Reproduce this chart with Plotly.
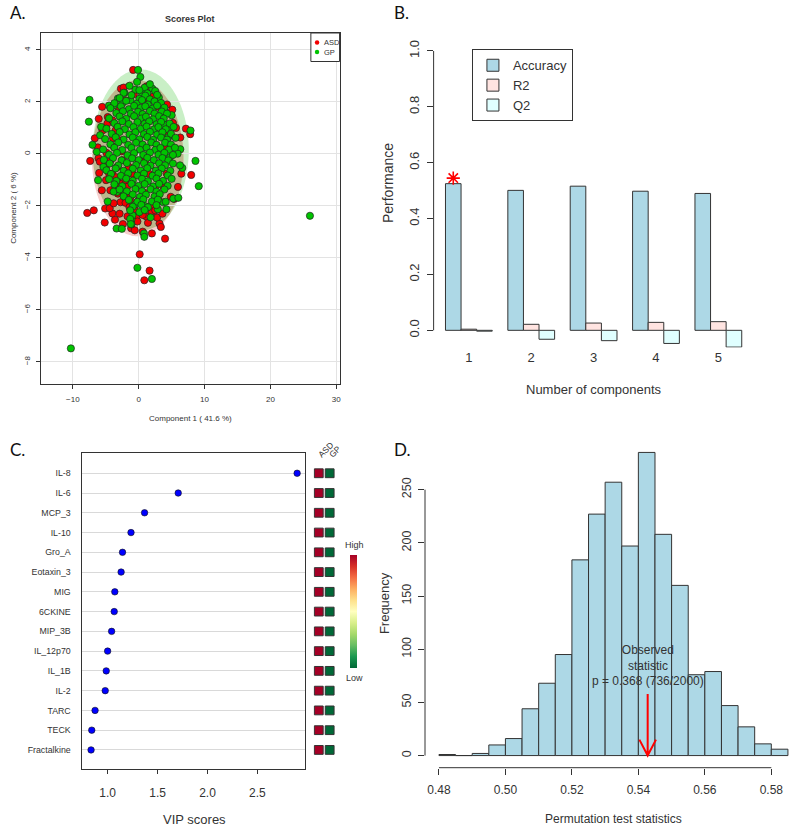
import numpy as np
import plotly.graph_objects as go

W, H = 800, 828


def fx(p):
    return p / W


def fy(p):
    return 1 - p / H


# ---------------- Panel A: PLS-DA scores ----------------
asd_scores = [
    (-0.85, 3.23), (-2.7, 2.51), (-5.56, 1.81), (-6.07, 1.35), (-6.67, 0.6), (-7.37, -0.27), (-6.1, -0.17),
    (-6.0, -0.73), (-7.82, -2.27), (-6.82, -2.17), (-5.16, -2.64), (-3.6, -2.53), (-4.0, -2.29), (-5.1, -2.1),
    (-4.4, -2.09), (-2.76, -1.86), (-2.0, -1.88), (-2.4, -2.7), (-1.15, -2.86), (-0.6, -2.94), (0.6, -2.99),
    (1.4, -2.65), (2.0, -3.06), (3.16, -2.68), (3.36, -2.81), (4.0, -3.26), (0.15, -3.86), (1.65, -4.49),
    (0.85, -4.86), (5.1, 1.7), (5.2, 1.19), (5.66, 1.0), (7.17, 0.97), (7.82, 0.76), (6.32, 0.63),
    (6.47, -0.76), (7.97, -0.81), (5.96, -1.27), (4.86, -1.65), (5.41, -1.73), (2.0, -2.23), (2.0, -1.97),
    (-0.75, 2.29), (-0.6, -2.15), (-0.4, -2.45), (-3.16, -1.53), (-4.96, -1.01), (-4.5, -0.76), (-4.9, 0.04),
    (-5.0, -0.5), (-4.26, -0.24), (-4.7, 1.42), (-4.76, 1.17), (-3.5, 0.91), (-3.76, 0.27), (-4.0, -0.76),
    (-3.26, -1.01), (-2.5, -1.14), (-1.75, -1.27), (-1.25, -1.65), (0.0, -1.78), (1.0, -2.04), (2.5, -2.17),
    (3.0, -1.78), (3.76, -1.27), (4.26, -0.76), (4.5, -0.24), (4.26, 0.27), (4.0, 0.78), (3.5, 1.29),
    (3.0, 1.81), (1.5, 2.06), (0.5, 2.19), (-2.0, 2.06), (-3.0, 1.68), (-4.0, 1.29), (-3.0, 0.53),
    (-2.5, -0.24), (-1.5, -0.5), (-1.0, -0.76), (1.5, -0.76), (2.5, -1.27), (1.0, -0.24), (-2.0, -1.01),
    (-3.26, -0.5), (-3.8, -1.9), (-2.9, -2.3), (-1.7, -2.4), (-0.2, -2.6), (1.1, -2.4), (2.8, -2.45),
    (3.6, -2.3), (-5.6, -1.4), (-5.9, -0.3), (-5.5, 0.9), (-2.3, 2.55), (1.2, 2.6), (2.2, 2.2), (4.3, 1.9),
    (-6.2, 0.25), (-1.4, -2.05), (0.6, -2.35), (-3.4, -0.9), (-2.2, -1.6), (-4.3, -1.4), (-3.0, -1.3),
    (-0.8, -1.9), (0.9, -1.5), (-2.6, 0.1), (-3.9, 0.6),
]

gp_scores = [
    (-0.1, 3.23), (0.25, 2.96), (-0.25, 2.77), (-0.5, 2.47), (2.06, 2.51), (-2.16, 2.35), (0.5, 2.32),
    (-7.47, 2.08), (3.06, 2.17), (-7.57, 1.24), (-3.16, 2.13), (-4.5, 1.86), (-3.76, 1.87), (-2.5, 1.94),
    (-1.25, 2.06), (5.0, 1.49), (3.86, 1.13), (7.87, 0.9), (-7.02, 0.35), (-6.37, 0.08), (8.62, -0.27),
    (9.12, -1.24), (6.62, -0.54), (5.26, -1.72), (6.02, -1.69), (4.21, -2.13), (-4.71, -1.83), (-6.17, -1.01),
    (-5.36, -0.5), (-5.86, 0.72), (-5.71, 1.04), (-3.36, -2.87), (-2.56, -2.88), (-1.1, -2.53), (-1.1, -2.71),
    (-0.95, -2.36), (0.8, -3.06), (0.85, -3.19), (1.8, -2.44), (-0.2, -4.38), (2.0, -4.81), (2.9, -2.13),
    (3.71, -1.86), (1.0, -2.01), (-0.5, -1.94), (-3.26, -1.46), (-3.81, -1.45), (-2.26, -1.49), (6.32, 0.18),
    (5.91, 0.01), (6.27, -0.44), (4.76, -0.12), (4.51, 0.65), (4.76, 1.04), (3.51, 1.81), (4.01, 1.62),
    (26.0, -2.38), (-10.3, -7.48),
    (-1.4, 2.62), (0.9, 2.55), (1.7, 2.68),
    (-2.3, 2.35), (0.1, 2.45), (1.3, 2.33), (2.5, 2.42),
    (-2.9, 2.15), (-1.1, 2.26), (0.1, 2.12), (1.0, 2.24), (1.7, 2.1), (2.8, 2.27),
    (-3.7, 1.95), (-1.9, 2.04), (-0.3, 1.93), (0.5, 2.07), (1.4, 1.9), (2.4, 2.02), (3.4, 1.96),
    (-4.3, 1.76), (-2.7, 1.83), (-1.5, 1.72), (-0.7, 1.85), (0.3, 1.77), (1.0, 1.83), (2.1, 1.74), (2.8, 1.86),
    (3.9, 1.78),
    (-3.4, 1.57), (-2.4, 1.64), (-1.2, 1.55), (-0.1, 1.62), (0.6, 1.53), (1.7, 1.65), (2.4, 1.55), (3.5, 1.63),
    (4.3, 1.55),
    (-4.5, 1.37), (-2.9, 1.44), (-1.9, 1.35), (-0.7, 1.45), (0.4, 1.36), (1.1, 1.43), (2.2, 1.33), (3.1, 1.45),
    (3.8, 1.36),
    (-3.7, 1.18), (-2.5, 1.25), (-1.5, 1.15), (-0.2, 1.22), (0.9, 1.16), (1.6, 1.25), (2.7, 1.14), (3.4, 1.23),
    (4.7, 1.17),
    (-4.9, 0.97), (-3.2, 1.04), (-2.1, 0.95), (-0.8, 1.03), (0.3, 0.96), (1.2, 1.05), (2.3, 0.94), (3.0, 1.03),
    (4.1, 0.95), (5.3, 1.04),
    (-4.1, 0.77), (-2.9, 0.84), (-1.4, 0.75), (-0.5, 0.83), (0.8, 0.76), (1.7, 0.85), (2.8, 0.74), (3.6, 0.83),
    (4.9, 0.77),
    (-5.1, 0.57), (-3.5, 0.64), (-2.3, 0.55), (-0.9, 0.63), (0.1, 0.56), (1.3, 0.65), (2.2, 0.54), (3.4, 0.63),
    (4.3, 0.55), (5.6, 0.62),
    (-4.3, 0.37), (-3.1, 0.44), (-1.6, 0.35), (-0.4, 0.43), (0.6, 0.36), (1.9, 0.44), (2.7, 0.35), (4.0, 0.43),
    (4.9, 0.36),
    (-5.4, 0.17), (-3.7, 0.24), (-2.5, 0.15), (-1.1, 0.23), (0.2, 0.16), (1.2, 0.24), (2.5, 0.15), (3.3, 0.23),
    (4.6, 0.16), (5.5, 0.24),
    (-4.5, -0.03), (-3.3, 0.04), (-1.7, -0.05), (-0.7, 0.03), (0.7, -0.04), (1.7, 0.05), (3.0, -0.03),
    (3.9, 0.04), (5.2, -0.04),
    (-5.3, -0.23), (-3.9, -0.16), (-2.6, -0.25), (-1.0, -0.17), (0.0, -0.24), (1.3, -0.15), (2.3, -0.24),
    (3.6, -0.16), (4.5, -0.25),
    (-4.4, -0.37), (-3.1, -0.44), (-1.8, -0.35), (-0.4, -0.43), (0.8, -0.36), (1.8, -0.45), (3.1, -0.36),
    (4.0, -0.44), (5.2, -0.37),
    (-4.9, -0.63), (-3.5, -0.56), (-2.3, -0.65), (-0.9, -0.57), (0.3, -0.64), (1.3, -0.55), (2.6, -0.64),
    (3.5, -0.56), (4.8, -0.65),
    (-4.2, -0.77), (-2.7, -0.84), (-1.6, -0.75), (-0.2, -0.83), (0.8, -0.76), (2.1, -0.84), (3.0, -0.75),
    (4.4, -0.83),
    (-4.5, -0.97), (-3.4, -1.04), (-1.9, -0.95), (-0.9, -1.03), (0.5, -0.96), (1.4, -1.05), (2.7, -0.95),
    (3.7, -1.04), (5.0, -0.96),
    (-3.7, -1.17), (-2.5, -1.24), (-1.1, -1.15), (0.0, -1.23), (0.9, -1.16), (2.2, -1.25), (3.1, -1.15),
    (4.4, -1.23),
    (-2.9, -1.37), (-1.8, -1.44), (-0.5, -1.35), (0.5, -1.43), (1.8, -1.36), (2.7, -1.45), (3.9, -1.37),
    (-2.3, -1.63), (-0.9, -1.56), (0.2, -1.65), (1.1, -1.57), (2.4, -1.64), (3.2, -1.55),
    (-1.5, -1.77), (-0.2, -1.84), (0.7, -1.75), (2.0, -1.83), (2.9, -1.76), (4.1, -1.84),
    (-0.9, -2.03), (0.4, -1.96), (1.4, -2.05), (2.7, -1.97),
    (-1.3, -2.17), (0.1, -2.24), (0.9, -2.16),
    (-1.3, -2.5), (-1.2, -2.7),
]

# 95% region ellipses: (centre x, centre y, half-width, half-height)
gp_ellipse = (0.3, 0.15, 7.3, 3.1)
asd_ellipse = (-0.15, -0.17, 6.95, 3.0)
var_comp1 = "Component 1 ( 41.6 %)"
var_comp2 = "Component 2 ( 6 %)"

# ---------------- Panel B: cross-validation ----------------
components = [1, 2, 3, 4, 5]
accuracy = [0.525, 0.501, 0.516, 0.498, 0.490]
r2 = [0.004, 0.0215, 0.026, 0.0285, 0.031]
q2 = [-0.003, -0.032, -0.037, -0.047, -0.060]
best_component = 1

# ---------------- Panel C: VIP scores ----------------
features = ["IL-8", "IL-6", "MCP_3", "IL-10", "Gro_A", "Eotaxin_3", "MIG", "6CKINE", "MIP_3B",
            "IL_12p70", "IL_1B", "IL-2", "TARC", "TECK", "Fractalkine"]
vip = [2.898, 1.707, 1.370, 1.234, 1.149, 1.135, 1.072, 1.066, 1.040, 1.000, 0.986, 0.976, 0.874, 0.841, 0.834]
groups = ["ASD", "GP"]
asd_level = [1, 1, 1, 1, 1, 1, 1, 1, 1, 1, 1, 1, 1, 1, 1]
gp_level = [0, 0, 0, 0, 0, 0, 0, 0, 0, 0, 0, 0, 0, 0, 0]

# ---------------- Panel D: permutation test ----------------
bin_left = [0.480, 0.485, 0.490, 0.495, 0.500, 0.505, 0.510, 0.515, 0.520, 0.525, 0.530,
            0.535, 0.540, 0.545, 0.550, 0.555, 0.560, 0.565, 0.570, 0.575, 0.580]
bin_width = 0.005
counts = [1, 0, 2, 10, 16, 44, 68, 95, 184, 227, 257, 197, 285, 208, 160, 76, 79, 47, 27, 11, 6]
observed_stat = 0.5428
arrow_top = 58
p_label = "p = 0.368 (736/2000)"

FONT = "Liberation Sans, Arial, sans-serif"
INK = "#333333"

fig = go.Figure()

# ---- Panel A traces
ax_, ay_ = zip(*asd_scores)
gx_, gy_ = zip(*gp_scores)
fig.add_trace(go.Scatter(x=list(ax_), y=list(ay_), mode="markers", xaxis="x", yaxis="y", showlegend=False,
                         marker=dict(color="#F20000", size=7.2, line=dict(color="#222222", width=0.7))))
fig.add_trace(go.Scatter(x=list(gx_), y=list(gy_), mode="markers", xaxis="x", yaxis="y", showlegend=False,
                         marker=dict(color="#00C400", size=7.2, line=dict(color="#222222", width=0.7))))


def ellipse_pts(e, n=240):
    cx, cy, rx, ry = e
    t = np.linspace(0, 2 * np.pi, n, endpoint=False)
    return cx + rx * np.cos(t), cy + ry * np.sin(t)


def inside(px_, py_, e):
    cx, cy, rx, ry = e
    return ((px_ - cx) / rx) ** 2 + ((py_ - cy) / ry) ** 2 <= 1.0


def to_path(xs, ys):
    return "M " + " L ".join(f"{a:.4f},{b:.4f}" for a, b in zip(xs, ys)) + " Z"


gxe, gye = ellipse_pts(gp_ellipse)
rxe, rye = ellipse_pts(asd_ellipse)
mg = inside(gxe, gye, asd_ellipse)
mr = inside(rxe, rye, gp_ellipse)
ix = np.concatenate([gxe[mg], rxe[mr]])
iy = np.concatenate([gye[mg], rye[mr]])
ang = np.arctan2((iy - iy.mean()) / 3.0, (ix - ix.mean()) / 7.0)
order = np.argsort(ang)
ix, iy = ix[order], iy[order]

shapes = []
shapes.append(dict(type="path", path=to_path(gxe, gye), xref="x", yref="y", layer="below",
                   fillcolor="#C9EFC6", line=dict(width=0)))
shapes.append(dict(type="path", path=to_path(rxe, rye), xref="x", yref="y", layer="below",
                   fillcolor="#F6CFCD", line=dict(width=0)))
shapes.append(dict(type="path", path=to_path(ix, iy), xref="x", yref="y", layer="below",
                   fillcolor="#BDB78D", line=dict(width=0)))

# manual legend for panel A
shapes.append(dict(type="rect", xref="paper", yref="paper", x0=fx(314), x1=fx(343), y0=fy(61.5), y1=fy(33),
                   line=dict(color=INK, width=1), fillcolor="white", layer="above"))
shapes.append(dict(type="circle", xref="paper", yref="paper", x0=fx(318), x1=fx(322.5), y0=fy(44.8),
                   y1=fy(40.3), fillcolor="#F20000", line=dict(width=0)))
shapes.append(dict(type="circle", xref="paper", yref="paper", x0=fx(318), x1=fx(322.5), y0=fy(54.2),
                   y1=fy(49.7), fillcolor="#00C400", line=dict(width=0)))

# ---- Panel B traces
bar_line = dict(color=INK, width=1)
fig.add_trace(go.Bar(x=components, y=accuracy, name="Accuracy", xaxis="x2", yaxis="y2",
                     marker=dict(color="#ADD8E6", line=bar_line)))
fig.add_trace(go.Bar(x=components, y=r2, name="R2", xaxis="x2", yaxis="y2",
                     marker=dict(color="#FFE4E1", line=bar_line)))
fig.add_trace(go.Bar(x=components, y=q2, name="Q2", xaxis="x2", yaxis="y2",
                     marker=dict(color="#E0FFFF", line=bar_line)))
fig.add_trace(go.Scatter(x=[components[best_component - 1] - 0.25], y=[accuracy[best_component - 1] + 0.02],
                         mode="markers", xaxis="x2", yaxis="y2", showlegend=False,
                         marker=dict(symbol="asterisk-open", size=11, color="#FF0000",
                                     line=dict(color="#FF0000", width=1.6))))
shapes.append(dict(type="line", xref="x2 domain", yref="y2", x0=0, x1=0, y0=0, y1=1.0,
                   line=dict(color=INK, width=1)))

# ---- Panel C traces
fig.add_trace(go.Scatter(x=vip, y=features, mode="markers", xaxis="x3", yaxis="y3", showlegend=False,
                         marker=dict(color="#0000FF", size=6.5, line=dict(color="#111111", width=0.6))))
fig.add_trace(go.Scatter(x=[groups[0]] * len(features) + [groups[1]] * len(features), y=features + features,
                         mode="markers", xaxis="x4", yaxis="y4", showlegend=False,
                         marker=dict(symbol="square", size=8.8, color=asd_level + gp_level,
                                     colorscale="RdYlGn", reversescale=True, cmin=0, cmax=1,
                                     line=dict(color=INK, width=1), showscale=True,
                                     colorbar=dict(x=fx(354), xanchor="left", y=fy(611.7), yanchor="middle",
                                                   len=113, lenmode="pixels", thickness=7,
                                                   thicknessmode="pixels", outlinewidth=0,
                                                   showticklabels=False, ticks="", xpad=0, ypad=0))))

# ---- Panel D traces
fig.add_trace(go.Bar(x=bin_left, y=counts, width=bin_width, offset=0, xaxis="x5", yaxis="y5", showlegend=False,
                     marker=dict(color="#ADD8E6", line=dict(color=INK, width=1))))
shapes.append(dict(type="line", xref="x5", yref="y5 domain", x0=bin_left[0], x1=0.58, y0=0, y1=0,
                   line=dict(color=INK, width=1)))
shapes.append(dict(type="line", xref="x5 domain", yref="y5", x0=0, x1=0, y0=0, y1=250,
                   line=dict(color=INK, width=1)))
shapes.append(dict(type="path", xref="x5", yref="y5",
                   path=(f"M {observed_stat},{arrow_top} L {observed_stat},0 "
                         f"M {observed_stat - 0.0025},15 L {observed_stat},0 L {observed_stat + 0.0025},15"),
                   line=dict(color="#FF0000", width=2), layer="above"))

# ---- Layout / axes
tick_font_small = dict(family=FONT, size=8, color=INK)
fig.update_layout(
    width=W, height=H, margin=dict(l=0, r=0, t=0, b=0),
    paper_bgcolor="white", plot_bgcolor="rgba(0,0,0,0)",
    font=dict(family=FONT, color=INK),
    barmode="group", bargap=0.25, bargroupgap=0,
    xaxis=dict(domain=[fx(41), fx(343)], range=[-14.9, 30.5], anchor="y",
               tickvals=[-10, 0, 10, 20, 30], ticks="outside", ticklen=4, tickcolor=INK,
               showline=True, mirror=True, linecolor=INK, linewidth=1,
               showgrid=True, gridcolor="#E3E3E3", gridwidth=1, zeroline=False,
               tickfont=tick_font_small, ticklabelstandoff=3),
    yaxis=dict(domain=[fy(384), fy(33)], range=[-8.85, 4.65], anchor="x",
               tickvals=[4, 2, 0, -2, -4, -6, -8], ticks="outside", ticklen=4, tickcolor=INK,
               showline=True, mirror=True, linecolor=INK, linewidth=1,
               showgrid=True, gridcolor="#E3E3E3", gridwidth=1, zeroline=False,
               tickfont=tick_font_small, tickangle=-90, ticklabelstandoff=2),
    xaxis2=dict(domain=[fx(438), fx(761.2)], range=[0.435, 5.565], anchor="y2",
                tickvals=components, ticks="", showline=False, showgrid=False, zeroline=False,
                tickfont=dict(family=FONT, size=13, color=INK)),
    yaxis2=dict(domain=[fy(347.5), fy(39.8)], range=[-0.0615, 1.04], anchor="x2",
                tickvals=[0, 0.2, 0.4, 0.6, 0.8, 1.0], ticktext=["0.0", "0.2", "0.4", "0.6", "0.8", "1.0"],
                ticks="outside", ticklen=6, tickcolor=INK, showline=False, showgrid=False, zeroline=False,
                tickangle=-90, tickfont=dict(family=FONT, size=13, color=INK), ticklabelstandoff=2),
    xaxis3=dict(domain=[fx(83.3), fx(308)], range=[0.748, 2.976], anchor="y3",
                tickvals=[1.0, 1.5, 2.0, 2.5], ticktext=["1.0", "1.5", "2.0", "2.5"],
                ticks="outside", ticklen=4, tickcolor=INK,
                showline=True, mirror=True, linecolor=INK, linewidth=1, showgrid=False, zeroline=False,
                tickfont=dict(family=FONT, size=12, color=INK), ticklabelstandoff=8),
    yaxis3=dict(domain=[fy(769.3), fy(453.3)], type="category", categoryorder="array", categoryarray=features,
                range=[14.98, -1.01], anchor="x3", ticks="",
                showline=True, mirror=True, linecolor=INK, linewidth=1,
                showgrid=True, gridcolor="#D9D9D9", gridwidth=1, zeroline=False,
                tickfont=dict(family=FONT, size=8.8, color=INK), ticklabelstandoff=9),
    xaxis4=dict(domain=[fx(316.5), fx(338.5)], type="category", categoryorder="array", categoryarray=groups,
                range=[-0.5, 1.5], anchor="free", position=fy(461), side="top", tickangle=-45, ticks="",
                showline=False, showgrid=False, zeroline=False,
                tickfont=dict(family=FONT, size=8.5, color=INK), ticklabelstandoff=0),
    yaxis4=dict(domain=[fy(769.3), fy(453.3)], type="category", categoryorder="array", categoryarray=features,
                range=[14.98, -1.01], anchor="x4", visible=False),
    xaxis5=dict(domain=[fx(429.3), 1.0], range=[0.4758, 0.4758 + (800 - 429.3) / 3357.0], anchor="y5",
                tickvals=[0.48, 0.50, 0.52, 0.54, 0.56, 0.58],
                ticktext=["0.48", "0.50", "0.52", "0.54", "0.56", "0.58"],
                ticks="outside", ticklen=6, tickcolor=INK, showline=False, showgrid=False, zeroline=False,
                tickfont=dict(family=FONT, size=12, color=INK), ticklabelstandoff=5),
    yaxis5=dict(domain=[fy(767.7), fy(440.3)], range=[-11.4, 296.4], anchor="x5",
                tickvals=[0, 50, 100, 150, 200, 250], ticks="outside", ticklen=6, tickcolor=INK,
                showline=False, showgrid=False, zeroline=False, tickangle=-90,
                tickfont=dict(family=FONT, size=12.5, color=INK), ticklabelstandoff=2),
    legend=dict(x=fx(476.7), y=fy(49.3), xanchor="left", yanchor="top", bgcolor="white",
                bordercolor=INK, borderwidth=1, font=dict(family=FONT, size=13, color=INK),
                itemwidth=30, tracegroupgap=0),
    shapes=shapes,
)

ann = []


def text(x, y, s, size, rot=0, bold=False, family=FONT, xanchor="center", color=INK):
    ann.append(dict(x=fx(x), y=fy(y), xref="paper", yref="paper", text=("<b>%s</b>" % s) if bold else s,
                    showarrow=False, textangle=rot, xanchor=xanchor, yanchor="middle",
                    font=dict(family=family, size=size, color=color)))


LBL = "Lato, Open Sans, sans-serif"
text(8, 13, "A.", 17, family=LBL, xanchor="left", color="#111")
text(396, 13, "B.", 17, family=LBL, xanchor="left", color="#111")
text(8, 449, "C.", 17, family=LBL, xanchor="left", color="#111")
text(396, 449, "D.", 17, family=LBL, xanchor="left", color="#111")
text(192, 19, "Scores Plot", 9, bold=True)
text(192, 418, var_comp1, 8)
text(13, 208, var_comp2, 8, rot=-90)
text(325, 42.5, groups[0], 7.5, xanchor="left")
text(325, 52, groups[1], 7.5, xanchor="left")
text(392, 183, "Performance", 14, rot=-90)
text(600, 389, "Number of components", 13)
text(358, 545, "High", 9)
text(358, 678, "Low", 9)
text(196, 819, "VIP scores", 13)
text(388, 603, "Frequency", 13, rot=-90)
text(620, 819, "Permutation test statistics", 12)
fig.update_layout(annotations=ann)
fig.add_annotation(x=observed_stat, y=arrow_top + 4, xref="x5", yref="y5", showarrow=False,
                   text="Observed<br>statistic<br>" + p_label, yanchor="bottom", xanchor="center",
                   font=dict(family=FONT, size=12, color=INK))

fig.write_html("out.html", config={"displayModeBar": False},
               post_script="document.body.style.margin='0';document.body.style.overflow='hidden';")
